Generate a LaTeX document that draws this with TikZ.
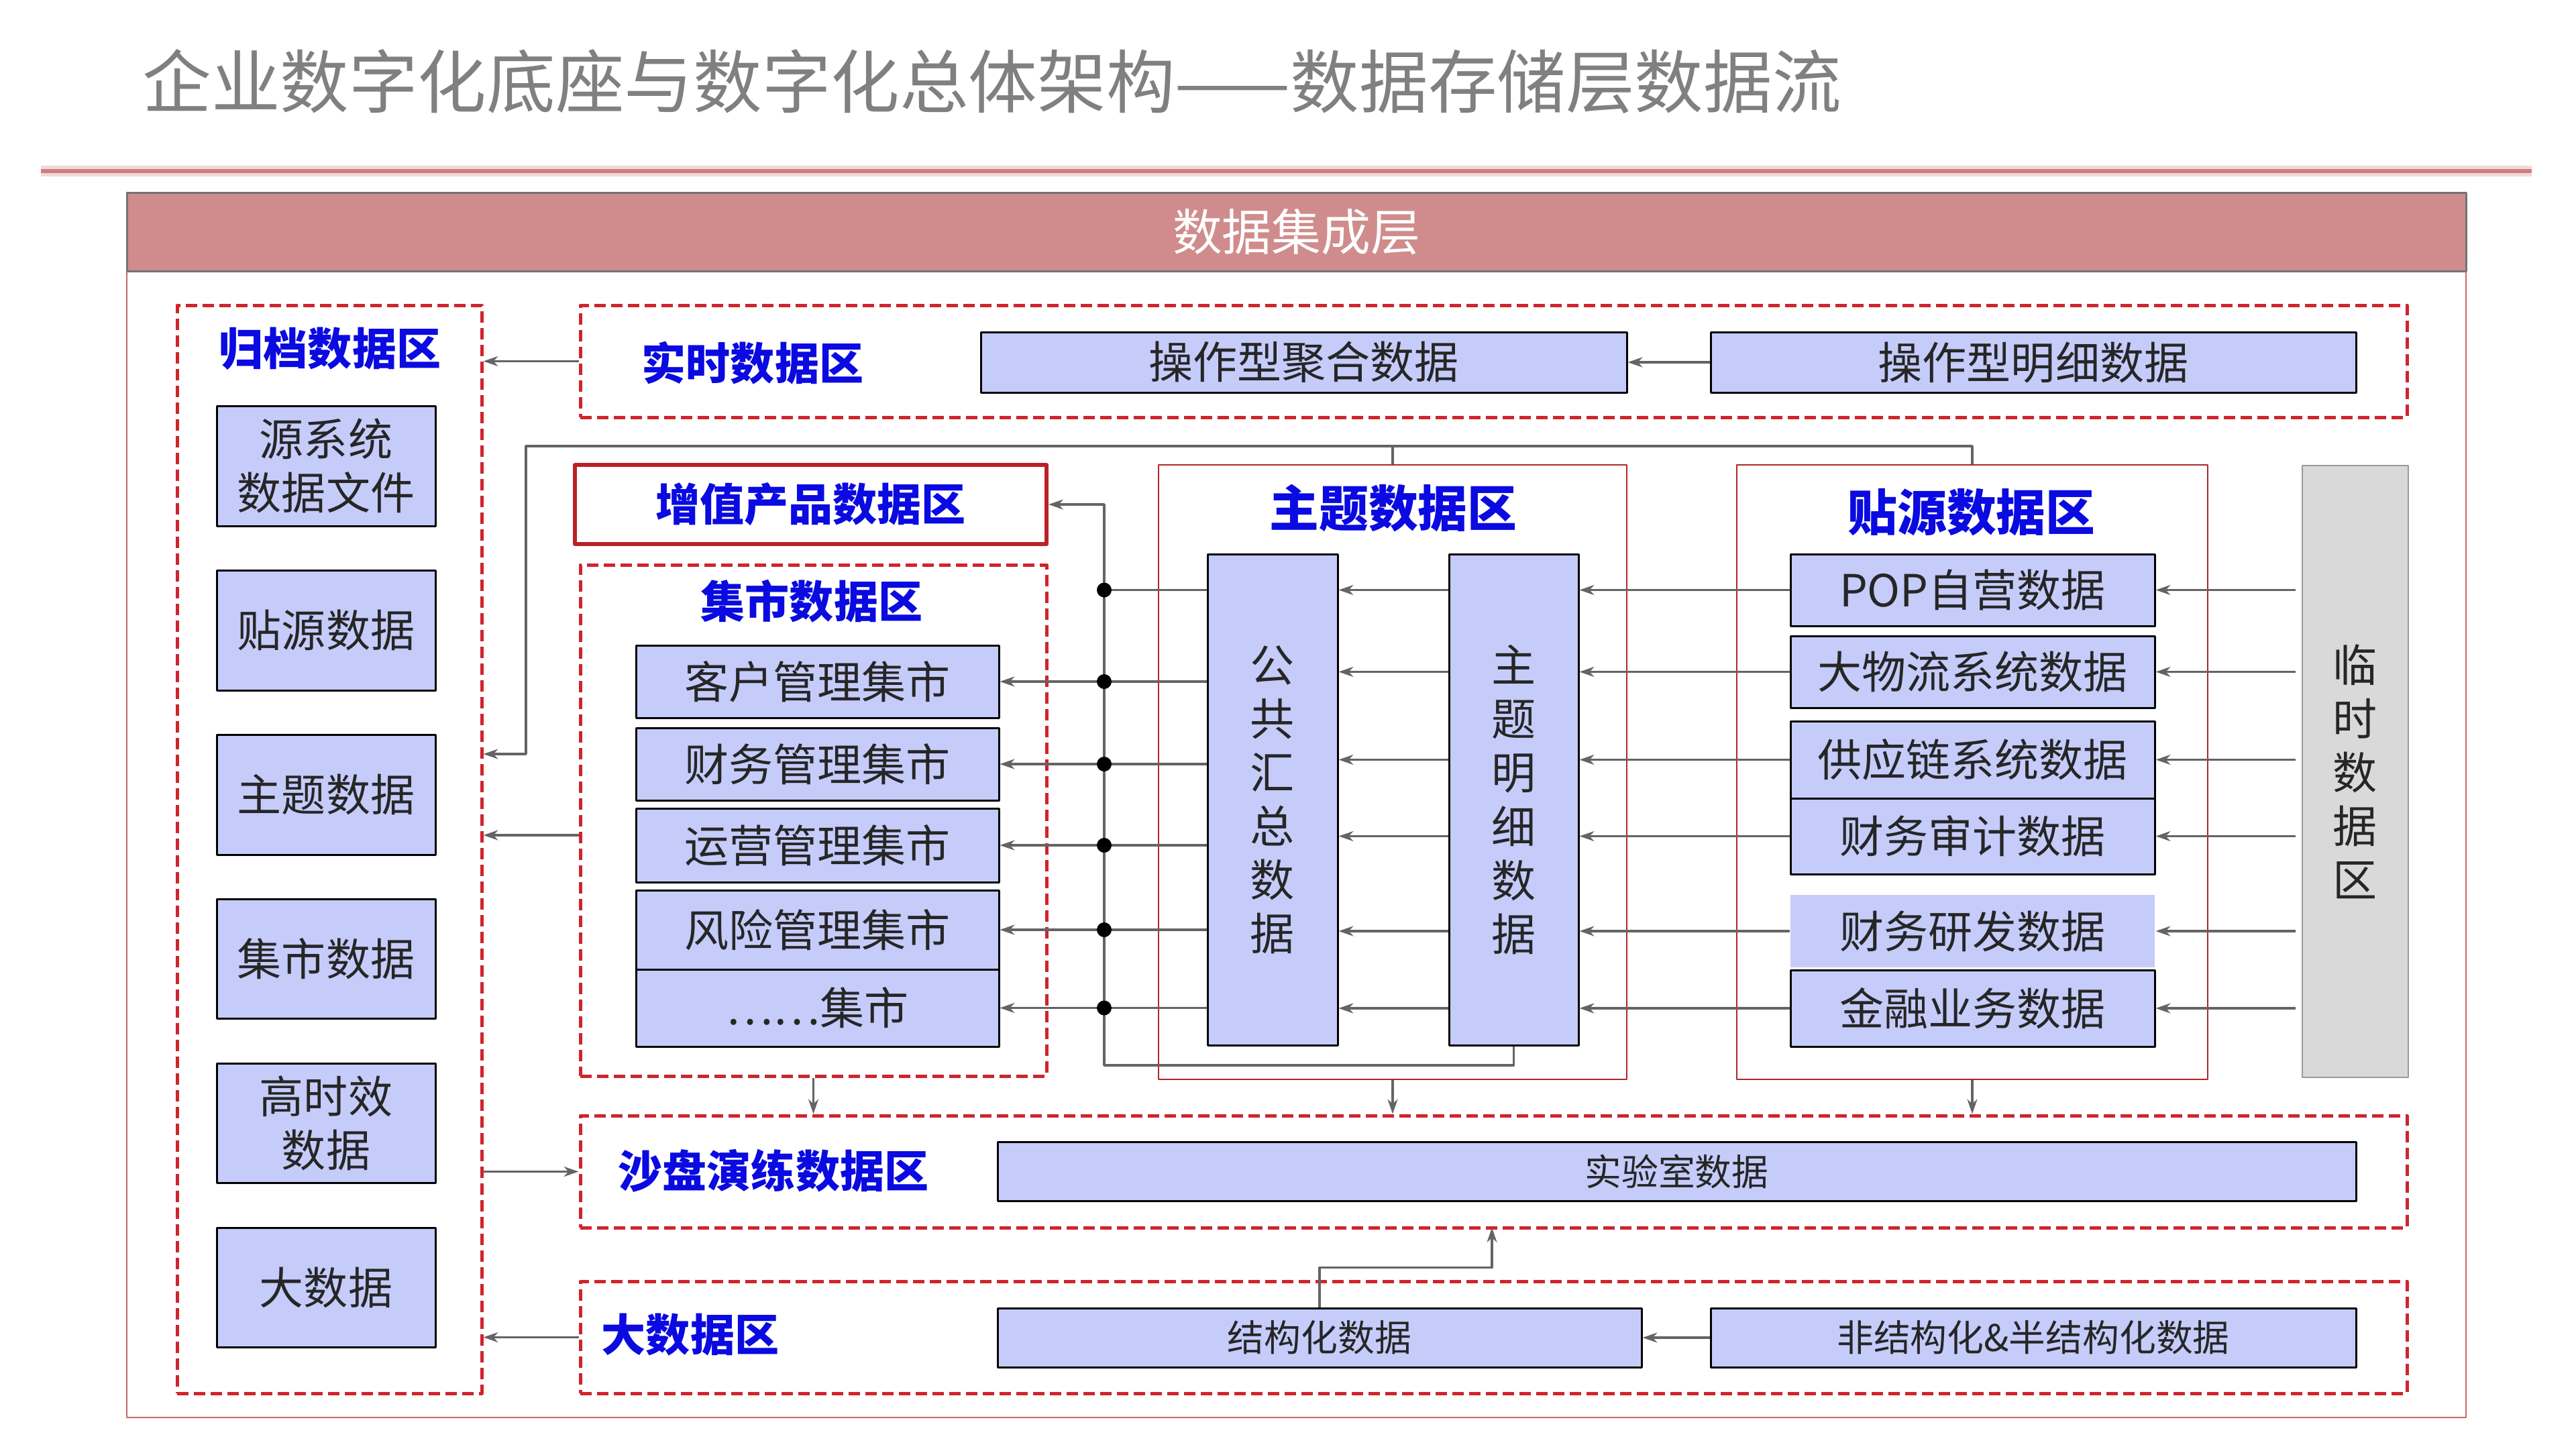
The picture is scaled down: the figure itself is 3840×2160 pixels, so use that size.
\documentclass[tikz,border=0pt]{standalone}
\usepackage{fontspec}
\setmainfont{Noto Sans CJK SC}
\usetikzlibrary{fit,arrows.meta}
\definecolor{itemfill}{RGB}{197,204,250}
\definecolor{zonered}{RGB}{208,36,44}
\definecolor{zonedark}{RGB}{175,40,40}
\definecolor{lblblue}{RGB}{10,10,225}
\definecolor{headfill}{RGB}{208,140,140}
\definecolor{titlegray}{RGB}{128,128,128}
\definecolor{titlered}{RGB}{205,125,130}
\definecolor{linegray}{RGB}{100,100,100}
\newcommand\fsitem{\fontsize{18.8pt}{22.8pt}\selectfont}
\newcommand\fssmall{\fontsize{15.6pt}{19pt}\selectfont}
\newcommand\fslbl{\fontsize{18.8pt}{22.8pt}\selectfont}
\newcommand\fsbig{\fontsize{21pt}{25pt}\selectfont}
\begin{document}
\begin{tikzpicture}[x=0.1mm,y=-0.1mm,line join=round,>={Stealth[length=2.2mm,width=1.5mm]},
  item/.style={draw=black,line width=0.3mm,fill=itemfill,inner sep=0pt},
  txt/.style={font=\fsitem,text=black!85,align=center},
  small/.style={font=\fssmall,text=black!85},
  zone/.style={draw=zonered,line width=0.5mm,dash pattern=on 1.7mm off 0.8mm,inner sep=0pt},
  thinzone/.style={draw=zonedark,line width=0.2mm,inner sep=0pt},
  lbl/.style={text=lblblue,font=\fslbl\bfseries},
  flow/.style={draw=linegray,line width=0.35mm}]
\useasboundingbox (0,0) rectangle (3840,2160);
\def\busx{1646}
% title and frame
\node[anchor=west,text=titlegray,font=\fontsize{29.2pt}{34pt}\selectfont] (title) at (200,122) {企业数字化底座与数字化总体架构——数据存储层数据流};
\draw[line width=1.6mm,draw=titlered!30] (61,255) -- (3774,255);
\draw[line width=0.6mm,draw=titlered] (61,255) -- (3774,255);
\draw[draw=zonedark!70,line width=0.2mm] (189,287) rectangle (3676,2113);
\node[fill=headfill,draw=black!55,line width=0.3mm,inner sep=0pt,fit={(189,287) (3676,404)},
  label={[text=white,font=\fsbig]center:数据集成层}] (head) {};

% zones
\node[zone,fit={(264,455) (718,2077)}] (gd) {};
\node[lbl] (gdl) at (492,520) {归档数据区};
\node[zone,fit={(865,455) (3588,622)}] (ss) {};
\node[lbl] (ssl) at (1122,541) {实时数据区};
\node[draw=zonered!90!black,line width=0.6mm,inner sep=0pt,fit={(857,693) (1560,811)},
  label={[lbl]center:增值产品数据区}] (zz) {};
\node[zone,fit={(865,842) (1560,1604)}] (jsq) {};
\node[lbl] (jsql) at (1210,896) {集市数据区};
\node[thinzone,fit={(1727,693) (2425,1609)}] (zt) {};
\node[lbl,font=\fsbig\bfseries] (ztl) at (2077,757) {主题数据区};
\node[thinzone,fit={(2589,693) (3291,1609)}] (ty) {};
\node[lbl,font=\fsbig\bfseries] (tyl) at (2939,764) {贴源数据区};
\node[fill=black!15,draw=black!40,line width=0.2mm,inner sep=0pt,fit={(3432,694) (3590,1606)},
  label={[txt]center:临\\时\\数\\据\\区}] (ls) {};
\node[zone,fit={(865,1663) (3588,1830)}] (sp) {};
\node[lbl] (spl) at (1153,1745) {沙盘演练数据区};
\node[zone,fit={(865,1910) (3588,2077)}] (dsq) {};
\node[lbl] (dsql) at (1029,1990) {大数据区};

% archive boxes
\node[item,fit={(323,605) (649,784)},label={[txt]center:源系统\\数据文件}] (a1) {};
\node[item,fit={(323,850) (649,1029)},label={[txt]center:贴源数据}] (a2) {};
\node[item,fit={(323,1095) (649,1274)},label={[txt]center:主题数据}] (a3) {};
\node[item,fit={(323,1340) (649,1518)},label={[txt]center:集市数据}] (a4) {};
\node[item,fit={(323,1585) (649,1763)},label={[txt]center:高时效\\数据}] (a5) {};
\node[item,fit={(323,1830) (649,2008)},label={[txt]center:大数据}] (a6) {};

% realtime
\node[item,fit={(1462,495) (2425,585)},label={[txt]center:操作型聚合数据}] (jh) {};
\node[item,fit={(2550,495) (3512,585)},label={[txt]center:操作型明细数据}] (mx) {};

% marts
\node[item,fit={(948,962) (1489,1070)},label={[txt]center:客户管理集市}] (kh) {};
\node[item,fit={(948,1085) (1489,1193)},label={[txt]center:财务管理集市}] (cw) {};
\node[item,fit={(948,1205) (1489,1315)},label={[txt]center:运营管理集市}] (yy) {};
\node[item,fit={(948,1327) (1489,1445)},label={[txt]center:风险管理集市}] (fx) {};
\node[item,fit={(948,1445) (1489,1560)},label={[txt]center:……集市}] (qt) {};

% subject
\node[item,fit={(1800,826) (1994,1558)},label={[txt]center:公\\共\\汇\\总\\数\\据}] (gg) {};
\node[item,fit={(2160,826) (2353,1558)},label={[txt]center:主\\题\\明\\细\\数\\据}] (ztmx) {};

% source
\node[item,fit={(2669,826) (3212,933)},label={[txt]center:POP自营数据}] (pop) {};
\node[item,fit={(2669,948) (3212,1055)},label={[txt]center:大物流系统数据}] (wl) {};
\node[item,fit={(2669,1075) (3212,1190)},label={[txt]center:供应链系统数据}] (gyl) {};
\node[item,fit={(2669,1190) (3212,1303)},label={[txt]center:财务审计数据}] (sj) {};
\node[item,draw=none,fit={(2669,1334) (3212,1442)},label={[txt]center:财务研发数据}] (yf) {};
\node[item,fit={(2669,1446) (3212,1560)},label={[txt]center:金融业务数据}] (jr) {};

% sandbox and big data
\node[item,fit={(1487,1702) (3512,1790)},label={[small]center:实验室数据}] (sys) {};
\node[item,fit={(1487,1950) (2447,2038)},label={[small]center:结构化数据}] (jg) {};
\node[item,fit={(2550,1950) (3512,2038)},label={[small]center:非结构化\&半结构化数据}] (fjg) {};

% flows
\draw[flow,->] (ss.west) -- (gd.east |- ss.west);
\draw[flow,->] (mx.west) -- (jh.east);
\draw[flow,->] (jsq.west |- 0,1245) -- (gd.east |- 0,1245);
\draw[flow,->] (gd.east |- sp.west) -- (sp.west);
\draw[flow,->] (dsq.west) -- (gd.east |- dsq.west);
\draw[flow,->] (fjg.west) -- (jg.east);
\draw[flow,->] (jg.north) -- ++(0,-59) -| (2224,1830);
\draw[flow] (ty.north) -- ++(0,-27) -| (zt.north);
\draw[flow,->] (zt.north) -- ++(0,-27) -| (784,1124) -- (gd.east |- 0,1124);
\foreach \z in {jsq,zt,ty}
  \draw[flow,->] (\z.south) -- (\z.south |- sp.north);

% bus
\coordinate (bt) at (\busx,752);
\coordinate (bb) at (\busx,1588);
\draw[flow,->] (ztmx.south) |- (bb) -- (bt) -- (zz.east);
\draw[flow] (gg.west |- pop.west) -- (bt |- pop.west);
\fill (bt |- pop.west) circle (11);
\foreach \n in {kh,cw,yy,fx,qt}{
  \draw[flow,->] (gg.west |- \n.east) -- (\n.east);
  \fill (bt |- \n.east) circle (11);
}
\foreach \n in {pop,wl,gyl,sj,yf,jr}{
  \draw[flow,->] (\n.west) -- (ztmx.east |- \n.west);
  \draw[flow,->] (ztmx.west |- \n.west) -- (gg.east |- \n.west);
  \draw[flow,->] (ls.west |- \n.east) ++(-9,0) -- (\n.east);
}
\end{tikzpicture}
\end{document}
